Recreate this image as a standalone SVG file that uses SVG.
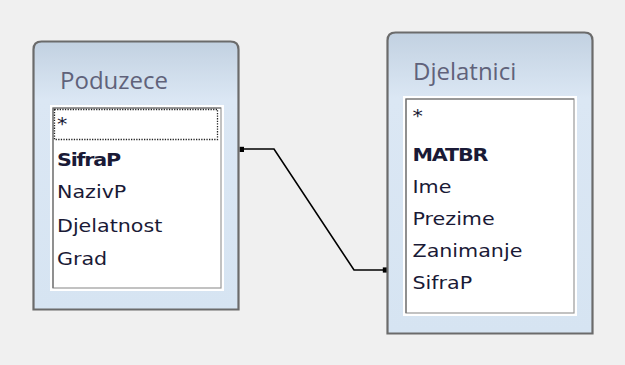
<svg xmlns="http://www.w3.org/2000/svg" width="625" height="365" viewBox="0 0 625 365">
<defs>
<linearGradient id="boxfill" x1="0" y1="0" x2="0" y2="1">
<stop offset="0" stop-color="#c2d1e1"/>
<stop offset="0.22" stop-color="#dbe7f4"/>
<stop offset="1" stop-color="#d6e4f2"/>
</linearGradient>
</defs>
<style>
.frame{fill:url(#boxfill);stroke:#6b6b6b;stroke-width:2.2}
.halo{fill:#ffffff;stroke:none}
.list{fill:#ffffff;stroke:#9a9a9a;stroke-width:1.2}
.listdark{fill:none;stroke:#6e6e6e;stroke-width:1.2}
.title{font-family:"Open Sans","Liberation Sans",sans-serif;font-size:24px;fill:#60627a}
.field{font-family:"DejaVu Sans","Liberation Sans",sans-serif;font-size:17.5px;fill:#1a1a36}
.key{font-weight:bold;letter-spacing:-1px}
.focus{fill:none;stroke:#222;stroke-width:1.3;stroke-dasharray:1.3 1.3}
.conn{fill:none;stroke:#000;stroke-width:1.6}
</style>
<rect x="0" y="0" width="625" height="365" fill="#f0f0f0"/>

<g id="connectors">
<polyline class="conn" points="241,149 274,149 354,270 385,270"/>
<rect x="239.5" y="146.8" width="4.5" height="5.2" fill="#000"/>
<rect x="382.8" y="267.4" width="4.5" height="5.2" fill="#000"/>
</g>

<g id="node-poduzece">
<path class="frame" d="M33.5,309.5 V49.5 Q33.5,41.5 41.5,41.5 H230.5 Q238.5,41.5 238.5,49.5 V309.5 Z"/>
<text class="title" x="60" y="89">Poduzece</text>
<rect class="halo" x="50" y="105" width="174" height="186"/>
<rect class="list" x="53" y="108" width="168" height="180"/>
<path class="listdark" d="M53,288 V108 H221"/>
<rect class="focus" x="54.5" y="109.5" width="163" height="30"/>
<g transform="translate(57,0) scale(1.18,1)">
<text class="field" x="0" y="130">*</text>
<text class="field key" x="0" y="166">SifraP</text>
<text class="field" x="0" y="198.5">NazivP</text>
<text class="field" x="0" y="232">Djelatnost</text>
<text class="field" x="0" y="265.5">Grad</text>
</g>
</g>

<g id="node-djelatnici">
<path class="frame" d="M387.5,333.5 V40.5 Q387.5,32.5 395.5,32.5 H584.5 Q592.5,32.5 592.5,40.5 V333.5 Z"/>
<text class="title" x="413" y="80">Djelatnici</text>
<rect class="halo" x="403" y="96" width="174" height="220"/>
<rect class="list" x="406" y="99" width="168" height="214"/>
<path class="listdark" d="M406,313 V99 H574"/>
<g transform="translate(412.5,0) scale(1.18,1)">
<text class="field" x="0" y="122">*</text>
<text class="field key" x="0" y="161">MATBR</text>
<text class="field" x="0" y="193">Ime</text>
<text class="field" x="0" y="225">Prezime</text>
<text class="field" x="0" y="257">Zanimanje</text>
<text class="field" x="0" y="289">SifraP</text>
</g>
</g>
</svg>
